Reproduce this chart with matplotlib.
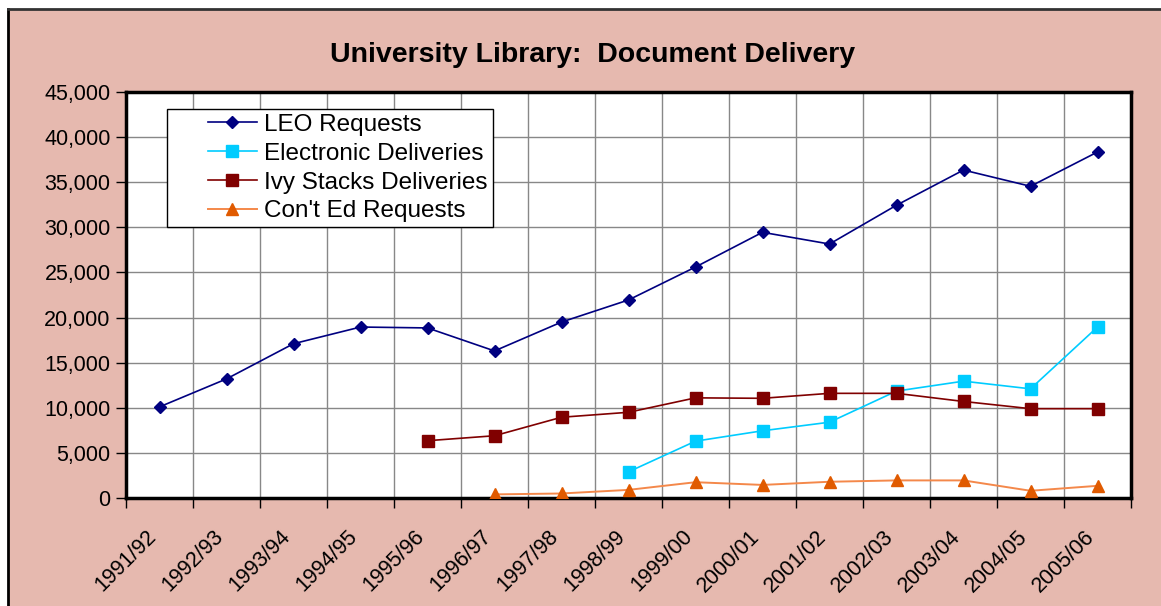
import numpy as np
import matplotlib.pyplot as plt
from matplotlib.patches import Rectangle
from matplotlib.legend_handler import HandlerLine2D
from matplotlib.lines import Line2D
from matplotlib.ticker import FuncFormatter, MultipleLocator

plt.rcParams['font.family'] = ['Liberation Sans', 'DejaVu Sans']

years = ['1991/92', '1992/93', '1993/94', '1994/95', '1995/96', '1996/97', '1997/98',
         '1998/99', '1999/00', '2000/01', '2001/02', '2002/03', '2003/04', '2004/05', '2005/06']
nan = np.nan
leo = [10100, 13200, 17100, 18950, 18850, 16300, 19500, 21950, 25600, 29450, 28150,
       32450, 36350, 34550, 38350]
electronic = [nan, nan, nan, nan, nan, nan, nan, 2900, 6300, 7450, 8400, 11850, 12950,
              12100, 18950]
ivy = [nan, nan, nan, nan, 6350, 6900, 8950, 9500, 11100, 11050, 11600, 11600, 10700,
       9900, 9900]
conted = [nan, nan, nan, nan, nan, 400, 500, 900, 1750, 1450, 1800, 1950, 1950, 800, 1350]


class RightHandler(HandlerLine2D):
    # excel-style legend key: short line sitting at the right of the key box
    def create_artists(self, legend, orig_handle, xdescent, ydescent, width, height,
                       fontsize, trans):
        x0 = -xdescent + width * 0.42
        x1 = -xdescent + width
        y = (height - ydescent) / 2
        line = Line2D([x0, x1], [y, y])
        self.update_prop(line, orig_handle, legend)
        line.set_marker('')
        mark = Line2D([(x0 + x1) / 2], [y])
        self.update_prop(mark, orig_handle, legend)
        mark.set_linestyle('')
        line.set_transform(trans)
        mark.set_transform(trans)
        return [line, mark]


bg = '#E6B9AF'
fig = plt.figure(figsize=(11.61, 6.06), dpi=100)
fig.patch.set_facecolor('white')
# chart area background with black left/top edge
fig.patches.append(Rectangle((8/1161, 0), 1, 1 - 9/606, transform=fig.transFigure,
                             facecolor=bg, edgecolor='none', zorder=-5))
fig.add_artist(Line2D([8/1161, 8/1161], [0, 1 - 9/606], color='black', lw=2,
                      transform=fig.transFigure, zorder=-4))
fig.add_artist(Line2D([8/1161, 1], [1 - 9/606, 1 - 9/606], color='#333333', lw=2,
                      transform=fig.transFigure, zorder=-4))

ax = fig.add_axes([126/1161, 1 - 498/606, (1131 - 126)/1161, (498 - 92)/606])
ax.set_facecolor('white')

x = np.arange(len(years)) + 0.5
ax.plot(x, leo, color='#000080', lw=1.2, marker='D', ms=6.5, mec='#000080',
        label='LEO Requests', zorder=5)
ax.plot(x, electronic, color='#00CCFF', lw=1.2, marker='s', ms=8, mec='#00CCFF',
        label='Electronic Deliveries', zorder=4)
ax.plot(x, ivy, color='#800000', lw=1.2, marker='s', ms=8, mec='#800000',
        label='Ivy Stacks Deliveries', zorder=4)
ax.plot(x, conted, color='#F4884A', lw=1.4, marker='^', ms=8, mfc='#E05A00', mec='#E05A00',
        label="Con't Ed Requests", zorder=4)

ax.set_xlim(0, len(years))
ax.set_ylim(0, 45000)
ax.yaxis.set_major_locator(MultipleLocator(5000))
ax.yaxis.set_major_formatter(FuncFormatter(lambda v, p: f'{int(v):,}'))
ax.set_xticks(np.arange(len(years) + 1))
ax.set_xticklabels([])
ax.grid(True, color='#888888', lw=1)
ax.set_axisbelow(True)
ax.tick_params(axis='both', direction='out', length=7, width=1, color='black',
               labelsize=15.5, pad=4)
for s in ax.spines.values():
    s.set_linewidth(2.5)
    s.set_color('black')

for i, lab in enumerate(years):
    ax.text(x[i] - 0.2, -3100, lab, rotation=45, ha='right', va='top',
            rotation_mode='anchor', fontsize=15.5)

fig.text(593/1161, 1 - 55/606, 'University Library:  Document Delivery', fontsize=20.5,
         fontweight='bold', ha='center', va='center')

leg = ax.legend(loc='upper left', bbox_to_anchor=(0.041, 0.958), fontsize=17.5,
                frameon=True, fancybox=False, edgecolor='black', framealpha=1,
                borderpad=0.2, handlelength=3.5, labelspacing=0.28, handletextpad=0.3,
                borderaxespad=0, handler_map={Line2D: RightHandler()})
leg.get_frame().set_linewidth(1)

fig.savefig('out.png', dpi=100, facecolor=fig.get_facecolor())
